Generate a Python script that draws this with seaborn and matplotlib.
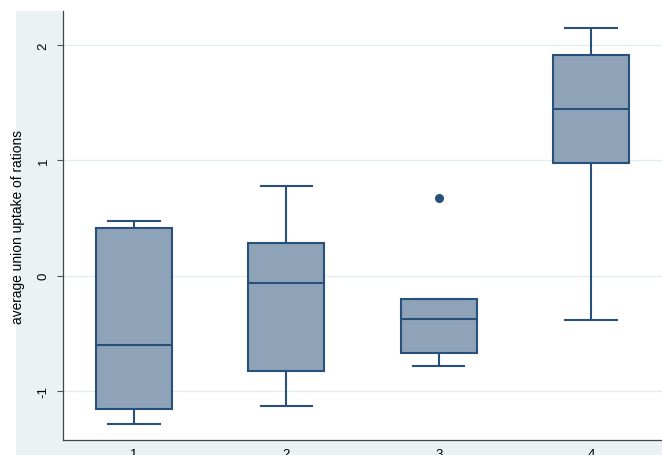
import matplotlib
matplotlib.use("Agg")
import matplotlib.pyplot as plt
from matplotlib.patches import Rectangle
import seaborn as sns
import pandas as pd

# Group labels and observed values (5-number style summaries per group, group 3 has an outlier)
groups = ["1", "2", "3", "4"]
group1 = [-1.287, -1.157, -0.60, 0.41, 0.47]
group2 = [-1.13, -0.826, -0.06, 0.287, 0.78]
group3 = [-0.78, -0.72, -0.667, -0.50, -0.374, -0.30, -0.20, -0.20, 0.67]
group4 = [-0.383, 0.974, 1.443, 1.913, 2.148]
yticks = [-1, 0, 1, 2]
ylabel = "average union uptake of rations"

rows = []
for g, vals in zip(groups, [group1, group2, group3, group4]):
    for v in vals:
        rows.append({"group": g, "value": v})
df = pd.DataFrame(rows)

W, H = 662, 456
fig = plt.figure(figsize=(W / 100, H / 100), dpi=100)
fig.patch.set_facecolor("white")
fig.patches.append(Rectangle((16 / W, 0), 1 - 16 / W, (H - 12) / H,
                             transform=fig.transFigure, facecolor="#eaf2f3",
                             edgecolor="none", zorder=-5))

ax = fig.add_axes([63 / W, (H - 441) / H, (W - 63) / W, (441 - 12) / H])
ax.set_zorder(2)
ax.set_facecolor("white")

fill = "#8ea3b8"
line = "#27507a"

sns.boxplot(data=df, x="group", y="value", order=groups, ax=ax,
            color=fill, saturation=1, linecolor=line, linewidth=1.5,
            width=0.5, fliersize=5.5, whis=1.5, capwidths=0.335,
            flierprops=dict(marker="o", markerfacecolor=line,
                            markeredgecolor=line))

ax.set_ylim(-1.425, 2.295)
ax.set_xlim(-0.466, 3.466)
ax.set_yticks(yticks)
ax.set_yticklabels([str(t) for t in yticks], rotation=90, va="center",
                   fontsize=9.5, family="Liberation Sans")
ax.set_xticks(range(len(groups)))
ax.set_xticklabels(groups, fontsize=9.5, family="Liberation Sans")
ax.tick_params(axis="y", length=4.5, width=0.8, color="#555555", pad=5)
ax.tick_params(axis="x", length=0, pad=5.5)
ax.grid(axis="y", color="#e3edf0", linewidth=1.0, zorder=0)
ax.set_axisbelow(True)
ax.set_xlabel("")
ax.set_ylabel(ylabel, fontsize=9.9, family="Liberation Sans")
ax.yaxis.set_label_coords(-(63 - 25) / (W - 63), 0.5)

for s in ["top", "right"]:
    ax.spines[s].set_visible(False)
for s in ["left", "bottom"]:
    ax.spines[s].set_color("#444444")
    ax.spines[s].set_linewidth(0.9)

fig.savefig("out.png", dpi=100, facecolor=fig.get_facecolor())
